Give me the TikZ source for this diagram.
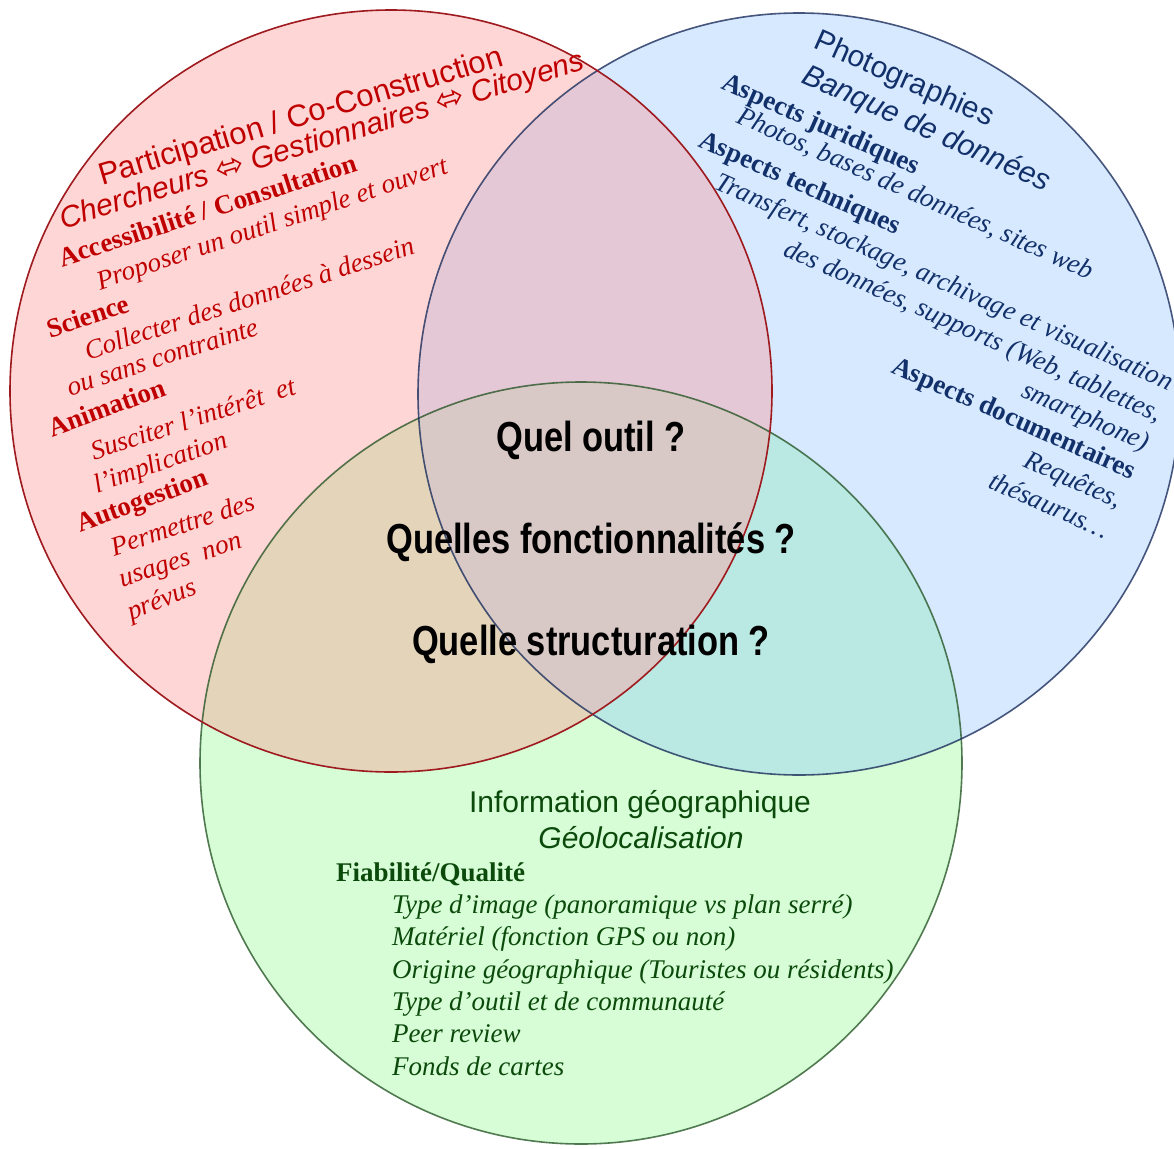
\documentclass[tikz,border=0pt]{standalone}
\usepackage{fontspec}
\setmainfont{Liberation Serif}
\newfontfamily\arialf{Liberation Sans}
\newfontfamily\narrowf[FakeStretch=0.82]{Liberation Sans}
\newfontfamily\djv{DejaVu Sans}
\definecolor{pinkF}{HTML}{FFD6D6}
\definecolor{blueF}{HTML}{D6E9FF}
\definecolor{greenF}{HTML}{D6FDD6}
\definecolor{rbF}{HTML}{E5C8D6}
\definecolor{rgF}{HTML}{E4D4BA}
\definecolor{bgF}{HTML}{BAE8E2}
\definecolor{cF}{HTML}{D9C9C6}
\definecolor{redS}{HTML}{9E1A1F}
\definecolor{blueS}{HTML}{1C2E5C}
\definecolor{greenS}{HTML}{1E4E1E}
\definecolor{redT}{HTML}{C00000}
\definecolor{blueT}{HTML}{12306A}
\definecolor{greenT}{HTML}{0C4A0C}
\tikzset{
  lbl/.style={anchor=base west, inner sep=0pt, outer sep=0pt},
  rl/.style={lbl, text=redT, rotate=#1}, rl/.default=18,
  bl/.style={lbl, text=blueT, rotate=#1}, bl/.default=-24,
  gl/.style={lbl, text=greenT},
  sansbig/.style={font=\arialf\fontsize{31}{36}\selectfont},
  sansit/.style={font=\arialf\itshape\fontsize{30}{36}\selectfont},
  hdr/.style={font=\bfseries\fontsize{27}{32}\selectfont},
  itl/.style={font=\itshape\fontsize{27}{32}\selectfont},
  qstyle/.style={anchor=base, inner sep=0pt, text=black, font=\narrowf\bfseries\fontsize{42}{48}\selectfont},
  ring/.style={line width=1.6pt}
}
\newcommand{\dblarrow}{{\djv\upshape\fontsize{34}{36}\selectfont ⬄}}
\begin{document}
\begin{tikzpicture}[x=1pt,y=-1pt]
\useasboundingbox (0,0) rectangle (1174,1148);
\fill[white] (0,0) rectangle (1174,1148);
\coordinate (R) at (391,391);
\coordinate (B) at (799,394);
\coordinate (G) at (581,763);
\def\rad{381}
% fills
\fill[pinkF] (R) circle[radius=\rad];
\fill[blueF] (B) circle[radius=\rad];
\fill[greenF] (G) circle[radius=\rad];
\begin{scope}
  \clip (R) circle[radius=\rad];
  \fill[rbF] (B) circle[radius=\rad];
  \fill[rgF] (G) circle[radius=\rad];
\end{scope}
\begin{scope}
  \clip (B) circle[radius=\rad];
  \fill[bgF] (G) circle[radius=\rad];
  \clip (R) circle[radius=\rad];
  \fill[cF] (G) circle[radius=\rad];
\end{scope}
% outlines
\draw[ring, greenS, draw opacity=0.75] (G) circle[radius=\rad];
\draw[ring, blueS, draw opacity=0.8] (B) circle[radius=\rad];
\draw[ring, redS] (R) circle[radius=\rad];

% red circle texts
\node[rl=16.5, sansbig] (r1) at (102,185) {Participation / Co-Construction};
\node[rl=17, sansit] (r2) at (63,229) {Chercheurs \dblarrow{} Gestionnaires \dblarrow{} Citoyens};
\node[rl=18, hdr] (r3) at (62,267) {Accessibilité / Consultation};
\node[rl=18.5, itl] (r4) at (100,290) {Proposer un outil simple et ouvert};
\node[rl=18, hdr] (r5) at (50,338) {Science};
\node[rl=18, itl] (r6) at (88,360) {Collecter des données à dessein};
\node[rl=18, itl] (r7) at (70,396) {ou sans contrainte};
\node[rl=20, hdr] (r8) at (52,437) {Animation};
\node[rl=18, itl] (r9) at (94,460) {Susciter l’intérêt\ \ et};
\node[rl=19, itl] (r10) at (97,493) {l’implication};
\node[rl=20, hdr] (r11) at (80,532) {Autogestion};
\node[rl=18, itl] (r12) at (114,556) {Permettre des};
\node[rl=18, itl] (r13) at (122,587) {usages\ \ non};
\node[rl=21, itl] (r14) at (131,620) {prévus};

% blue circle texts
\node[bl, font=\arialf\fontsize{30}{36}\selectfont] (b1) at (812,48) {Photographies};
\node[bl, sansit] (b2) at (800,82) {Banque de données};
\node[bl, hdr] (b3) at (720,88) {Aspects juridiques};
\node[bl, itl] (b4) at (735,122) {Photos, bases de données, sites web};
\node[bl, hdr] (b5) at (697,146) {Aspects techniques};
\node[bl, itl] (b6) at (713,188) {Transfert, stockage, archivage et visualisation};
\node[bl, itl] (b7) at (782,255) {des données, supports (Web, tablettes,};
\node[bl, itl] (b8) at (1020,396) {smartphone)};
\node[bl, hdr] (b9) at (890,372) {Aspects documentaires};
\node[bl, itl] (b10) at (1022,466) {Requêtes,};
\node[bl, itl] (b11) at (987,487) {thésaurus…};

% center questions
\node[qstyle] (q1) at (591,451) {Quel outil ?};
\node[qstyle] (q2) at (591,553) {Quelles fonctionnalités ?};
\node[qstyle] (q3) at (591,655) {Quelle structuration ?};

% green circle texts
\node[anchor=base, inner sep=0pt, text=greenT, font=\arialf\fontsize{30}{36}\selectfont] (g1) at (640,812) {Information géographique};
\node[anchor=base, inner sep=0pt, text=greenT, font=\arialf\itshape\fontsize{30}{36}\selectfont] (g2) at (641,848) {Géolocalisation};
\node[gl, hdr] (g3) at (336,881) {Fiabilité/Qualité};
\node[gl, itl] (g4) at (392,913) {Type d’image (panoramique vs plan serré)};
\node[gl, itl] (g5) at (392,945) {Matériel (fonction GPS ou non)};
\node[gl, itl] (g6) at (392,978) {Origine géographique (Touristes ou résidents)};
\node[gl, itl] (g7) at (392,1010) {Type d’outil et de communauté};
\node[gl, itl] (g8) at (392,1042) {Peer review};
\node[gl, itl] (g9) at (392,1075) {Fonds de cartes};
\end{tikzpicture}
\end{document}
